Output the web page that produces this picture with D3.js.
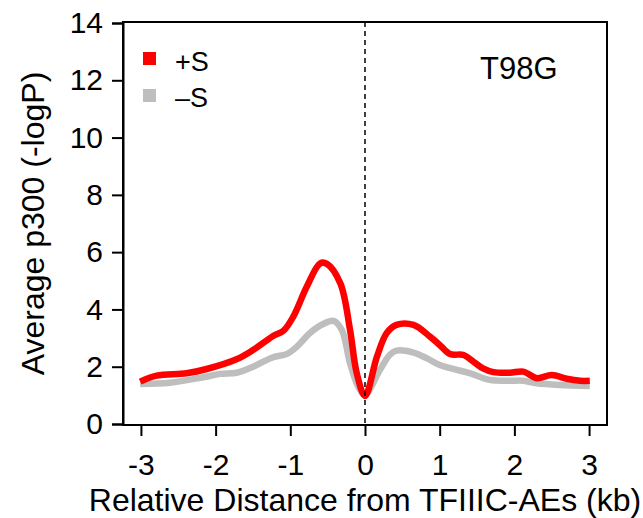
<!DOCTYPE html>
<html>
<head>
<meta charset="utf-8">
<script src="https://cdn.jsdelivr.net/npm/d3@7"></script>
<style>
  body { margin: 0; background: #fff; }
  text { font-family: "Liberation Sans", Arial, Helvetica, sans-serif; fill: #000; }
</style>
</head>
<body>
<svg id="chart" width="643" height="518"></svg>
<script>
// 데이터
const plusX = [-3.01, -2.79, -2.39, -2.12, -1.72, -1.50, -1.23, -1.09, -0.96, -0.78, -0.60, -0.51, -0.33, -0.20, -0.11, 0,
               0.16, 0.29, 0.42, 0.65, 0.87, 1.0, 1.14, 1.32, 1.45, 1.58, 1.72, 1.94, 2.12, 2.30, 2.50, 2.70, 2.88, 3.01];
const plusY = [1.48, 1.69, 1.77, 1.92, 2.26, 2.58, 3.07, 3.26, 3.75, 4.79, 5.61, 5.59, 4.91, 3.28, 1.77, 0.98,
               2.35, 3.17, 3.46, 3.46, 3.05, 2.76, 2.44, 2.41, 2.18, 1.94, 1.81, 1.79, 1.83, 1.60, 1.71, 1.58, 1.51, 1.51];
const minusX = [-3.01, -2.61, -2.17, -1.94, -1.72, -1.50, -1.23, -1.05, -0.91, -0.74, -0.56, -0.42, -0.31, -0.20, -0.09, 0,
                0.2, 0.33, 0.42, 0.65, 0.83, 1.0, 1.23, 1.41, 1.67, 1.94, 2.12, 2.30, 2.61, 3.01];
const minusY = [1.40, 1.44, 1.63, 1.75, 1.79, 2.0, 2.33, 2.44, 2.70, 3.17, 3.49, 3.60, 3.28, 2.12, 1.30, 1.02,
                1.89, 2.41, 2.56, 2.49, 2.29, 2.06, 1.89, 1.77, 1.54, 1.51, 1.51, 1.42, 1.36, 1.33];
const xTicks = [-3, -2, -1, 0, 1, 2, 3];
const yTicks = [0, 2, 4, 6, 8, 10, 12, 14];
const seriesNames = ["+S", "\u2013S"];
const seriesColors = ["#ff0000", "#bebebe"];
const cellLine = "T98G";

const svg = d3.select("#chart");
const boxLeft = 123, boxRight = 607, boxTop = 22, boxBottom = 425;

const x = d3.scaleLinear().domain([-3.24, 3.24]).range([boxLeft, boxRight]);
const y = d3.scaleLinear().domain([0, 14]).range([424, 23]);

// 곡선
const line = d3.line()
  .x(d => x(d[0]))
  .y(d => y(d[1]))
  .curve(d3.curveCatmullRom.alpha(0.5));

const series = [
  d3.zip(minusX, minusY),
  d3.zip(plusX, plusY)
];
const colorsDraw = [seriesColors[1], seriesColors[0]];

series.forEach((s, i) => {
  svg.append("path")
    .datum(s)
    .attr("fill", "none")
    .attr("stroke", colorsDraw[i])
    .attr("stroke-width", 6.5)
    .attr("stroke-linejoin", "round")
    .attr("stroke-linecap", "butt")
    .attr("d", line);
});

// 점선 (x = 0)
svg.append("line")
  .attr("x1", x(0)).attr("x2", x(0))
  .attr("y1", boxTop).attr("y2", boxBottom)
  .attr("stroke", "#000")
  .attr("stroke-width", 1.5)
  .attr("stroke-dasharray", "5,4");

// 테두리
svg.append("rect")
  .attr("x", boxLeft).attr("y", boxTop)
  .attr("width", boxRight - boxLeft).attr("height", boxBottom - boxTop)
  .attr("fill", "none")
  .attr("stroke", "#000")
  .attr("stroke-width", 2);

// y 축
const yAxis = svg.append("g")
  .attr("transform", `translate(${boxLeft},0)`)
  .call(d3.axisLeft(y).tickValues(yTicks).tickSize(11).tickPadding(9));
yAxis.select(".domain").attr("stroke-width", 2);
yAxis.selectAll(".tick line").attr("stroke-width", 2);
yAxis.selectAll("text").style("font-size", "30px").style("font-family", "Liberation Sans, Arial, sans-serif");

// x 축
const xAxis = svg.append("g")
  .attr("transform", `translate(0,${boxBottom})`)
  .call(d3.axisBottom(x).tickValues(xTicks).tickSize(11).tickPadding(18).tickFormat(d3.format("d")));
xAxis.select(".domain").remove();
xAxis.selectAll(".tick line").attr("stroke-width", 2);
xAxis.selectAll("text").style("font-size", "30px").style("font-family", "Liberation Sans, Arial, sans-serif");
xAxis.selectAll("text").text(d => d < 0 ? "-" + Math.abs(d) : d);

// 축 제목
svg.append("text")
  .attr("x", (boxLeft + boxRight) / 2)
  .attr("y", 511)
  .attr("text-anchor", "middle")
  .style("font-size", "32px")
  .text("Relative Distance from TFIIIC-AEs (kb)");

svg.append("text")
  .attr("transform", `translate(44,${(boxTop + boxBottom) / 2}) rotate(-90)`)
  .attr("text-anchor", "middle")
  .style("font-size", "32px")
  .text("Average p300 (-logP)");

// 범례
const legend = svg.append("g");
seriesNames.forEach((name, i) => {
  legend.append("rect")
    .attr("x", 143).attr("y", 52 + i * 37)
    .attr("width", 13).attr("height", 13)
    .attr("fill", seriesColors[i]);
  legend.append("text")
    .attr("x", 175).attr("y", 71 + i * 36)
    .style("font-size", "27px")
    .text(name);
});

svg.append("text")
  .attr("x", 480).attr("y", 79)
  .style("font-size", "31px")
  .text(cellLine);
</script>
</body>
</html>
